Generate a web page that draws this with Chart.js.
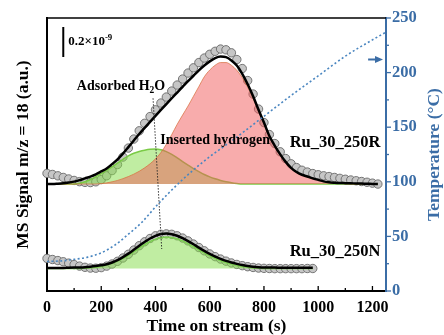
<!DOCTYPE html>
<html lang="en">
<head>
<meta charset="UTF-8">
<title>MS signal m/z = 18</title>
<script src="https://cdn.jsdelivr.net/npm/chart.js"></script>
<style>
  html, body { margin: 0; padding: 0; background: #fff; }
  #wrap { width: 444px; height: 335px; position: relative; }
</style>
</head>
<body>
<div id="wrap"><canvas id="msChart"></canvas></div>
<script>
// time grid of the MS traces (s)
const timeR = [0, 20, 40, 60, 80, 100, 120, 140, 160, 180, 200, 220, 240, 260, 280, 300, 320, 340, 360, 380,
  400, 420, 440, 460, 480, 500, 520, 540, 560, 580, 600, 620, 640, 660, 680, 700, 720, 740, 760, 780,
  800, 820, 840, 860, 880, 900, 920, 940, 960, 980, 1000, 1020, 1040, 1060, 1080, 1100, 1120, 1140, 1160, 1180,
  1200, 1220];
const timeN = [0, 20, 40, 60, 80, 100, 120, 140, 160, 180, 200, 220, 240, 260, 280, 300, 320, 340, 360, 380,
  400, 420, 440, 460, 480, 500, 520, 540, 560, 580, 600, 620, 640, 660, 680, 700, 720, 740, 760, 780,
  800, 820, 840, 860, 880, 900, 920, 940, 960, 980];

// Ru_30_250R, signal above its baseline (x1e-9)
const measuredR = [0.071, 0.064, 0.055, 0.044, 0.034, 0.024, 0.016, 0.011, 0.010, 0.015, 0.030, 0.055, 0.090, 0.130, 0.180, 0.240, 0.300, 0.355, 0.405, 0.450,
  0.495, 0.540, 0.580, 0.620, 0.660, 0.700, 0.740, 0.775, 0.810, 0.840, 0.865, 0.885, 0.900, 0.895, 0.875, 0.830, 0.770, 0.690, 0.600, 0.500,
  0.410, 0.330, 0.270, 0.215, 0.170, 0.135, 0.110, 0.092, 0.080, 0.070, 0.062, 0.055, 0.050, 0.044, 0.038, 0.032, 0.027, 0.022, 0.017, 0.012,
  0.006, 0.000];
const fitR = [0.000, 0.000, 0.002, 0.005, 0.010, 0.016, 0.026, 0.038, 0.050, 0.065, 0.084, 0.104, 0.133, 0.165, 0.203, 0.246, 0.290, 0.334, 0.375, 0.415,
  0.455, 0.494, 0.533, 0.572, 0.610, 0.648, 0.686, 0.722, 0.758, 0.790, 0.818, 0.840, 0.850, 0.846, 0.824, 0.790, 0.735, 0.665, 0.585, 0.495,
  0.410, 0.320, 0.255, 0.198, 0.148, 0.108, 0.080, 0.062, 0.050, 0.038, 0.028, 0.018, 0.012, 0.009, 0.007, 0.006, 0.005, 0.004, 0.003, 0.002,
  0.001, 0.000];
const waterR = [0, 0, 0, 0, 0, 0.000, 0.005, 0.015, 0.030, 0.050, 0.070, 0.093, 0.115, 0.140, 0.165, 0.188, 0.205, 0.217, 0.226, 0.232,
  0.233, 0.228, 0.216, 0.198, 0.175, 0.150, 0.126, 0.103, 0.083, 0.064, 0.048, 0.035, 0.024, 0.015, 0.009, 0.004, 0, 0, 0, 0,
  0, 0, 0, 0, 0, 0, 0, 0, 0, 0, 0, 0, 0, 0, 0, 0, 0, 0, 0, 0,
  0, 0];
const hydrogenR = [0, 0, 0, 0, 0, 0, 0, 0, 0, 0, 0.003, 0.008, 0.015, 0.024, 0.036, 0.050, 0.066, 0.085, 0.108, 0.135,
  0.168, 0.210, 0.265, 0.330, 0.398, 0.460, 0.520, 0.585, 0.650, 0.715, 0.760, 0.792, 0.810, 0.810, 0.792, 0.758, 0.710, 0.645, 0.570, 0.485,
  0.400, 0.315, 0.250, 0.193, 0.144, 0.105, 0.077, 0.058, 0.045, 0.034, 0.025, 0.017, 0.011, 0.007, 0.004, 0.002, 0, 0, 0, 0,
  0, 0];

// Ru_30_250N
const measuredN = [0.067, 0.060, 0.053, 0.045, 0.036, 0.026, 0.016, 0.008, 0.003, 0.002, 0.006, 0.016, 0.030, 0.048, 0.070, 0.095, 0.123, 0.152, 0.178, 0.200,
  0.218, 0.228, 0.231, 0.228, 0.218, 0.203, 0.184, 0.163, 0.140, 0.118, 0.097, 0.079, 0.063, 0.049, 0.037, 0.027, 0.019, 0.012, 0.007, 0.003,
  0.001, 0.000, -0.001, -0.001, -0.001, -0.001, -0.001, -0.001, 0.000, 0.000];
const fitN = [0.004, 0.004, 0.004, 0.004, 0.005, 0.006, 0.007, 0.009, 0.012, 0.016, 0.021, 0.028, 0.040, 0.056, 0.076, 0.099, 0.125, 0.152, 0.177, 0.200,
  0.218, 0.230, 0.233, 0.228, 0.218, 0.202, 0.183, 0.162, 0.139, 0.117, 0.097, 0.080, 0.064, 0.051, 0.040, 0.031, 0.023, 0.017, 0.012, 0.009,
  0.007, 0.006, 0.006, 0.005, 0.005, 0.005, 0.005, 0.005, 0.005, 0.005];
const waterN = [0, 0, 0, 0, 0, 0, 0, 0.002, 0.005, 0.009, 0.015, 0.023, 0.034, 0.049, 0.067, 0.088, 0.112, 0.137, 0.160, 0.180,
  0.196, 0.206, 0.210, 0.207, 0.198, 0.184, 0.166, 0.146, 0.125, 0.104, 0.085, 0.068, 0.053, 0.040, 0.029, 0.020, 0.013, 0.008, 0.004, 0.002,
  0, 0, 0, 0, 0, 0, 0, 0, 0, 0];

// oven temperature (°C)
const tempTime = [0, 50, 100, 150, 200, 250, 300, 350, 400, 450, 500, 550, 600, 650, 700, 800, 900, 1000, 1100, 1200, 1250];
const tempValue = [27, 27.5, 29, 31, 35, 42, 52, 63, 77, 90, 102, 113, 123, 132, 141, 160, 179, 197, 215, 230, 237];

const xTicks = [0, 200, 400, 600, 800, 1000, 1200];
const tempTicks = [0, 50, 100, 150, 200, 250];

// baselines of the stacked traces (x1e-9)
const offsetR = 0.713;
const offsetN = 0.15;

const FONT = "'Liberation Serif', 'Times New Roman', serif";
const BLUE = '#3b6da6';

function series(times, values, offset) {
  return times.map((t, i) => ({ x: t, y: offset + values[i] }));
}

// text with sub/superscript pieces, centred or left aligned at (x, y)
function richText(ctx, parts, x, y, size, align) {
  const widths = parts.map(([txt, mode]) => {
    ctx.font = `bold ${mode ? size * 0.68 : size}px ${FONT}`;
    return ctx.measureText(txt).width;
  });
  const total = widths.reduce((a, b) => a + b, 0);
  let cx = align === 'left' ? x : x - total / 2;
  ctx.textAlign = 'left';
  ctx.textBaseline = 'middle';
  parts.forEach(([txt, mode], i) => {
    ctx.font = `bold ${mode ? size * 0.68 : size}px ${FONT}`;
    const dy = mode === 'sub' ? size * 0.3 : mode === 'sup' ? -size * 0.35 : 0;
    ctx.fillText(txt, cx, y + dy);
    cx += widths[i];
  });
}

const labels = [
  { parts: [['Adsorbed H'], ['2', 'sub'], ['O']], t: 273, v: 1.362, size: 14 },
  { parts: [['Inserted hydrogen']], t: 620, v: 1.007, size: 14 },
  { parts: [['Ru_30_250R']], t: 1062, v: 0.99, size: 16.5 },
  { parts: [['Ru_30_250N']], t: 1062, v: 0.26, size: 16.5 }
];
const leaderLine = [[391, 1.285], [423, 0.28]];
const scaleBar = { t: 60, from: 1.56, to: 1.76 };
const tempArrow = { from: 1184, to: 1239, temp: 212 };

const markup = {
  id: 'markup',
  afterDatasetsDraw(chart) {
    const { ctx, chartArea, scales: { x, y, y1 } } = chart;
    ctx.save();

    // frame top
    ctx.strokeStyle = '#000';
    ctx.lineWidth = 1.5;
    ctx.beginPath();
    ctx.moveTo(chartArea.left, chartArea.top);
    ctx.lineTo(chartArea.right, chartArea.top);
    ctx.stroke();

    // inward ticks on the time axis
    ctx.lineWidth = 1.3;
    for (let t = 0; t <= 1200; t += 100) {
      const px = x.getPixelForValue(t);
      const len = t % 200 === 0 ? 5 : 3;
      ctx.beginPath();
      ctx.moveTo(px, chartArea.bottom);
      ctx.lineTo(px, chartArea.bottom - len);
      ctx.stroke();
    }

    // outward ticks on the temperature axis
    ctx.strokeStyle = BLUE;
    for (let T = 0; T <= 250; T += 25) {
      const py = y1.getPixelForValue(T);
      const len = T % 50 === 0 ? 5 : 3;
      ctx.beginPath();
      ctx.moveTo(chartArea.right, py);
      ctx.lineTo(chartArea.right + len, py);
      ctx.stroke();
    }

    // right axis title, reading bottom to top
    ctx.save();
    ctx.translate(434, (chartArea.top + chartArea.bottom) / 2);
    ctx.rotate(-Math.PI / 2);
    ctx.fillStyle = BLUE;
    ctx.font = `bold 17.5px ${FONT}`;
    ctx.textAlign = 'center';
    ctx.textBaseline = 'middle';
    ctx.fillText('Temperature (°C)', 0, 0);
    ctx.restore();

    // arrow pointing at the temperature axis
    const ay = y1.getPixelForValue(tempArrow.temp);
    const ax0 = x.getPixelForValue(tempArrow.from);
    const ax1 = x.getPixelForValue(tempArrow.to);
    ctx.lineWidth = 2;
    ctx.beginPath();
    ctx.moveTo(ax0, ay);
    ctx.lineTo(ax1 - 6, ay);
    ctx.stroke();
    ctx.fillStyle = BLUE;
    ctx.beginPath();
    ctx.moveTo(ax1, ay);
    ctx.lineTo(ax1 - 8, ay - 3.5);
    ctx.lineTo(ax1 - 8, ay + 3.5);
    ctx.closePath();
    ctx.fill();

    // leader from the water label
    ctx.strokeStyle = '#222';
    ctx.lineWidth = 0.9;
    ctx.setLineDash([1.5, 1.5]);
    ctx.beginPath();
    ctx.moveTo(x.getPixelForValue(leaderLine[0][0]), y.getPixelForValue(leaderLine[0][1]));
    ctx.lineTo(x.getPixelForValue(leaderLine[1][0]), y.getPixelForValue(leaderLine[1][1]));
    ctx.stroke();
    ctx.setLineDash([]);

    // intensity scale bar
    const bx = x.getPixelForValue(scaleBar.t);
    ctx.strokeStyle = '#000';
    ctx.lineWidth = 2;
    ctx.beginPath();
    ctx.moveTo(bx, y.getPixelForValue(scaleBar.from));
    ctx.lineTo(bx, y.getPixelForValue(scaleBar.to));
    ctx.stroke();
    ctx.fillStyle = '#000';
    richText(ctx, [['0.2×10'], ['-9', 'sup']], bx + 5, y.getPixelForValue((scaleBar.from + scaleBar.to) / 2), 13, 'left');

    labels.forEach(l => {
      richText(ctx, l.parts, x.getPixelForValue(l.t), y.getPixelForValue(l.v), l.size, 'center');
    });
    ctx.restore();
  }
};

const pointStyle = {
  showLine: false,
  pointRadius: 4.2,
  pointBackgroundColor: '#c6c6c6',
  pointBorderColor: '#6a6a6a',
  pointBorderWidth: 0.9,
  clip: false,
  order: 6
};
const fitStyle = { borderColor: '#000', borderWidth: 2.5, pointRadius: 0, fill: false, order: 1 };

new Chart(document.getElementById('msChart'), {
  type: 'line',
  data: {
    datasets: [
      { label: 'Temperature', data: series(tempTime, tempValue, 0), yAxisID: 'y1', borderColor: '#4a86c0',
        borderWidth: 1.6, borderDash: [2, 2.4], pointRadius: 0, fill: false, order: 0 },
      { label: 'Fit R', data: series(timeR, fitR, offsetR), ...fitStyle },
      { label: 'Fit N', data: series(timeN, fitN, offsetN), ...fitStyle },
      { label: 'Adsorbed H2O R', data: series(timeR, waterR, offsetR), borderColor: '#7acb45', borderWidth: 1.5,
        backgroundColor: 'rgba(130,220,70,0.5)', fill: { value: offsetR }, pointRadius: 0, order: 4 },
      { label: 'Inserted hydrogen R', data: series(timeR, hydrogenR, offsetR), borderColor: 'rgba(215,110,60,0.7)', borderWidth: 1,
        backgroundColor: 'rgba(242,90,90,0.5)', fill: { value: offsetR }, pointRadius: 0, order: 3 },
      { label: 'Adsorbed H2O N', data: series(timeN, waterN, offsetN), borderColor: '#7ad04e', borderWidth: 1.5,
        backgroundColor: 'rgba(130,220,70,0.5)', fill: { value: offsetN }, pointRadius: 0, order: 3 },
      { label: 'Ru_30_250R', data: series(timeR, measuredR, offsetR), ...pointStyle },
      { label: 'Ru_30_250N', data: series(timeN, measuredN, offsetN), ...pointStyle }
    ]
  },
  options: {
    responsive: true,
    maintainAspectRatio: false,
    animation: false,
    layout: { padding: { top: 18 } },
    elements: { line: { cubicInterpolationMode: 'monotone' } },
    plugins: { legend: { display: false }, tooltip: { enabled: false } },
    scales: {
      x: {
        type: 'linear', min: 0, max: 1250,
        afterBuildTicks: s => { s.ticks = xTicks.map(v => ({ value: v })); },
        afterFit: s => { s.height = 44; },
        grid: { display: false, drawTicks: false },
        border: { color: '#000', width: 2 },
        ticks: { color: '#000', padding: 7, maxRotation: 0, callback: v => String(v),
          font: { family: FONT, size: 16, weight: 'bold' } },
        title: { display: true, text: 'Time on stream (s)', color: '#000', padding: { top: 0, bottom: 0 },
          font: { family: FONT, size: 17.5, weight: 'bold', lineHeight: 1 } }
      },
      y: {
        position: 'left', min: 0, max: 1.82,
        afterFit: s => { s.width = 47; },
        ticks: { display: false },
        grid: { display: false, drawTicks: false },
        border: { color: '#000', width: 2 },
        title: { display: true, text: 'MS Signal m/z = 18 (a.u.)', color: '#000', padding: { top: 15, bottom: 0 },
          font: { family: FONT, size: 17.5, weight: 'bold', lineHeight: 1 } }
      },
      y1: {
        position: 'right', min: 0, max: 250,
        afterBuildTicks: s => { s.ticks = tempTicks.map(v => ({ value: v })); },
        afterFit: s => { s.width = 58; },
        grid: { display: false, drawTicks: false },
        border: { color: BLUE, width: 2 },
        ticks: { color: BLUE, padding: 6, font: { family: FONT, size: 16.5, weight: 'bold' } },
        title: { display: false }
      }
    }
  },
  plugins: [markup]
});
</script>
</body>
</html>
